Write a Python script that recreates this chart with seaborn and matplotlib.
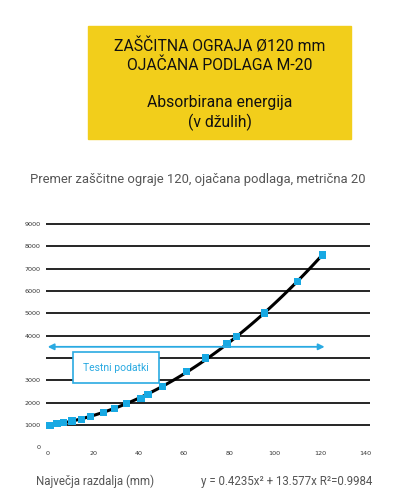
import numpy as np
import pandas as pd
import seaborn as sns
import matplotlib
matplotlib.use("Agg")
import matplotlib.pyplot as plt
from matplotlib.patches import Rectangle

# test points
x_mm = [1.0, 4.1, 6.9, 10.7, 14.8, 18.9, 24.4, 29.3, 34.9, 41.1, 44.2,
        50.5, 61.2, 69.7, 79.0, 83.0, 95.6, 110.1, 121.0]
energy = [985, 1075, 1120, 1178, 1254, 1370, 1550, 1729, 1970, 2194, 2373,
          2732, 3386, 3999, 4626, 4953, 6014, 7434, 8612]

y_ticks = [0, 1000, 2000, 3000, 4000, 5000, 6000, 7000, 8000, 9000, 10000]
y_labels = ['0', '1000', '2000', '3000', '', '4000', '5000', '6000', '7000', '8000', '9000']
x_ticks = [0, 20, 40, 60, 80, 100, 120, 140]

title_lines = ["ZAŠČITNA OGRAJA Ø120 mm", "OJAČANA PODLAGA M-20", "",
               "Absorbirana energija", "(v džulih)"]
subtitle = "Premer zaščitne ograje 120, ojačana podlaga, metrična 20"
xlabel = "Največja razdalja (mm)"
equation = "y = 0.4235x² + 13.577x R²=0.9984"

df = pd.DataFrame({'x': x_mm, 'y': energy})

# trend line (2nd order fit of the points)
coef = np.polyfit(x_mm, energy, 2)
xs = np.linspace(0, max(x_mm), 100)
trend = pd.DataFrame({'x': xs, 'y': np.polyval(coef, xs)})

sns.set_style("white")
plt.rcParams['font.family'] = ['Roboto', 'DejaVu Sans']

W, H = 403, 500
fig = plt.figure(figsize=(W / 100, H / 100), dpi=100)

# yellow header
fig.patches.append(Rectangle((88 / W, 1 - 139 / H), 263 / W, 113 / H,
                             transform=fig.transFigure, color='#F2CE1B', zorder=0))
for line, ypx in zip(title_lines, [46, 65, 83, 102, 122]):
    if line:
        fig.text(219.5 / W, 1 - ypx / H, line, ha='center', va='center',
                 fontsize=11.3, color='#111111')

fig.text(198 / W, 1 - 179 / H, subtitle, ha='center', va='center',
         fontsize=9.4, color='#555555')

ax = fig.add_axes([46 / W, 1 - 447.3 / H, 324 / W, 223.3 / H * 1.01])
ax.set_xlim(-0.75, 142)
ax.set_ylim(0, 10100)

for t in y_ticks[1:]:
    ax.axhline(t, color='black', lw=1.2, zorder=1)

sns.lineplot(data=trend, x='x', y='y', color='black', lw=2.2, ax=ax, zorder=3)
sns.scatterplot(data=df, x='x', y='y', marker='s', s=26, color='#18A9E3',
                edgecolor='none', ax=ax, zorder=4)

ax.annotate('', xy=(0, 4500), xytext=(122, 4500),
            arrowprops=dict(arrowstyle='<|-|>', color='#2AAAE2', lw=1.3,
                            mutation_scale=9, shrinkA=0, shrinkB=0), zorder=5)
ax.text(30, 3560, "Testni podatki", ha='center', va='center', fontsize=7.5,
        color='#2AAAE2', zorder=6,
        bbox=dict(boxstyle='square,pad=1.0', fc='white', ec='#2AAAE2', lw=1.2))

ax.set_yticks(y_ticks)
ax.set_yticklabels(y_labels)
ax.set_xticks(x_ticks)
ax.tick_params(axis='both', length=0, labelsize=4.6, colors='#333333')
ax.tick_params(axis='y', pad=4)
ax.tick_params(axis='x', pad=3)
for lab in ax.get_xticklabels() + ax.get_yticklabels():
    lab.set_family('DejaVu Sans')
ax.set_xlabel('')
ax.set_ylabel('')
for s in ax.spines.values():
    s.set_visible(False)

fig.text(35.7 / W, 1 - 481 / H, xlabel, ha='left', va='center',
         fontsize=8.3, color='#555555')
fig.text(372.7 / W, 1 - 481 / H, equation, ha='right', va='center',
         fontsize=8.3, color='#555555')

fig.savefig('out.png', dpi=100)
